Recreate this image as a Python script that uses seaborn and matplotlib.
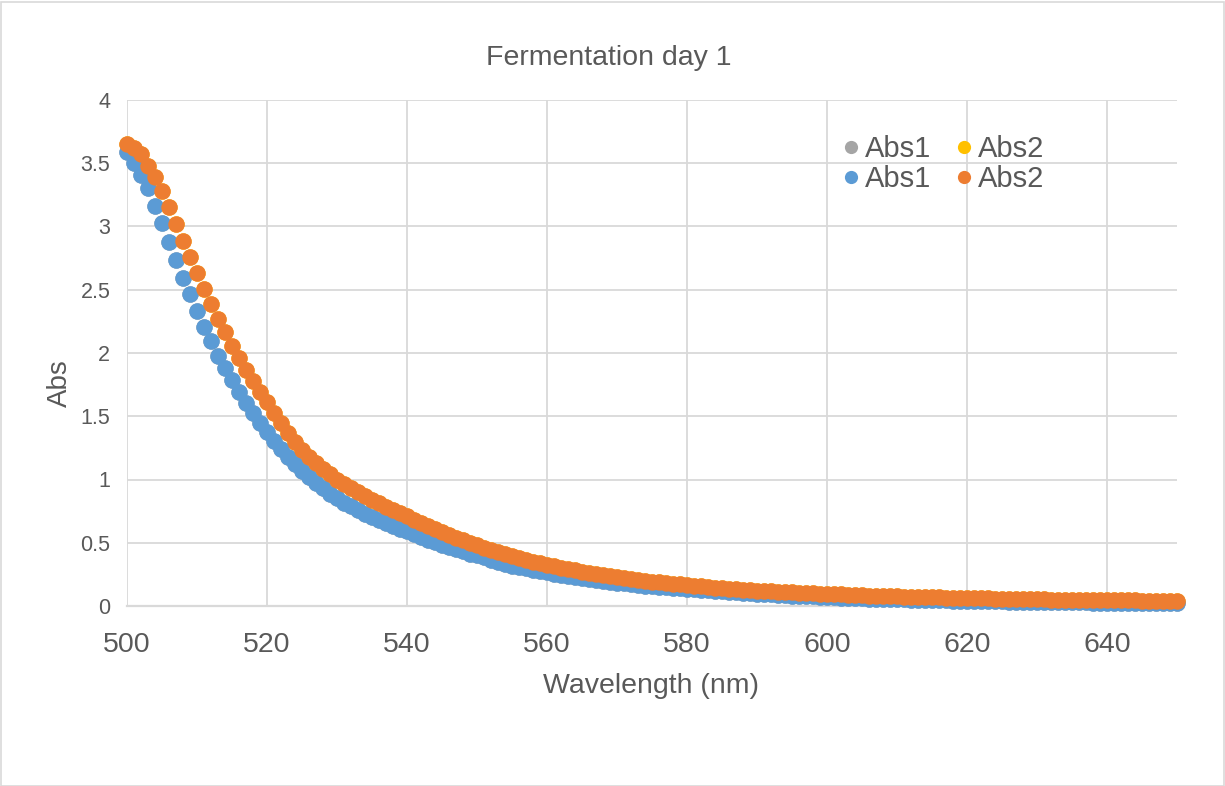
import matplotlib
matplotlib.use("Agg")
import matplotlib.pyplot as plt
from matplotlib.patches import Rectangle
from matplotlib.lines import Line2D
import seaborn as sns

# ---- data ----
wavelength = list(range(500, 651))

abs1 = [
    3.590, 3.504, 3.411, 3.307, 3.164, 3.030, 2.880, 2.735, 2.590, 2.464,
    2.330, 2.205, 2.092, 1.979, 1.880, 1.787, 1.694, 1.607, 1.523, 1.444,
    1.376, 1.307, 1.241, 1.180, 1.123, 1.070, 1.020, 0.974, 0.930, 0.889,
    0.850, 0.818, 0.787, 0.757, 0.728, 0.700, 0.677, 0.654, 0.632, 0.611,
    0.590, 0.567, 0.546, 0.525, 0.505, 0.485, 0.466, 0.448, 0.431, 0.415,
    0.400, 0.384, 0.367, 0.351, 0.335, 0.320, 0.308, 0.297, 0.286, 0.275,
    0.265, 0.255, 0.246, 0.237, 0.228, 0.220, 0.212, 0.205, 0.198, 0.191,
    0.185, 0.179, 0.173, 0.168, 0.162, 0.157, 0.152, 0.148, 0.143, 0.139,
    0.135, 0.131, 0.127, 0.123, 0.119, 0.115, 0.111, 0.108, 0.104, 0.101,
    0.098, 0.095, 0.092, 0.089, 0.086, 0.083, 0.081, 0.078, 0.076, 0.073,
    0.071, 0.069, 0.067, 0.065, 0.063, 0.061, 0.059, 0.058, 0.056, 0.055,
    0.053, 0.052, 0.050, 0.049, 0.048, 0.047, 0.045, 0.044, 0.043, 0.042,
    0.041, 0.040, 0.039, 0.038, 0.037, 0.036, 0.035, 0.035, 0.034, 0.033,
    0.032, 0.031, 0.031, 0.030, 0.030, 0.029, 0.028, 0.028, 0.027, 0.027,
    0.026, 0.026, 0.025, 0.025, 0.024, 0.024, 0.024, 0.023, 0.023, 0.022,
    0.022,
]

abs2 = [
    3.652, 3.618, 3.571, 3.478, 3.389, 3.281, 3.152, 3.020, 2.888, 2.762,
    2.630, 2.504, 2.386, 2.269, 2.164, 2.057, 1.960, 1.868, 1.779, 1.694,
    1.610, 1.523, 1.444, 1.368, 1.299, 1.233, 1.180, 1.130, 1.086, 1.042,
    1.000, 0.964, 0.930, 0.898, 0.868, 0.840, 0.812, 0.785, 0.759, 0.734,
    0.710, 0.683, 0.657, 0.632, 0.608, 0.585, 0.563, 0.541, 0.520, 0.500,
    0.480, 0.462, 0.444, 0.427, 0.411, 0.395, 0.380, 0.365, 0.351, 0.338,
    0.325, 0.314, 0.303, 0.292, 0.282, 0.272, 0.263, 0.254, 0.245, 0.236,
    0.228, 0.221, 0.213, 0.206, 0.200, 0.193, 0.187, 0.181, 0.176, 0.170,
    0.165, 0.160, 0.155, 0.150, 0.146, 0.141, 0.137, 0.133, 0.129, 0.126,
    0.122, 0.119, 0.116, 0.113, 0.110, 0.107, 0.105, 0.102, 0.100, 0.097,
    0.095, 0.093, 0.091, 0.089, 0.087, 0.085, 0.083, 0.081, 0.079, 0.078,
    0.076, 0.075, 0.073, 0.072, 0.070, 0.069, 0.068, 0.067, 0.065, 0.064,
    0.063, 0.062, 0.061, 0.060, 0.059, 0.058, 0.057, 0.056, 0.055, 0.054,
    0.053, 0.052, 0.051, 0.051, 0.050, 0.049, 0.049, 0.048, 0.047, 0.047,
    0.046, 0.045, 0.045, 0.044, 0.044, 0.043, 0.043, 0.042, 0.042, 0.041,
    0.041,
]

series_names = ["Abs1", "Abs2", "Abs1", "Abs2"]
series_colors = ["#A5A5A5", "#FFC000", "#5B9BD5", "#ED7D31"]
x_ticks = [500, 520, 540, 560, 580, 600, 620, 640]
y_ticks = [0, 0.5, 1, 1.5, 2, 2.5, 3, 3.5, 4]
y_tick_labels = ["0", "0.5", "1", "1.5", "2", "2.5", "3", "3.5", "4"]
title = "Fermentation day 1"
x_label = "Wavelength (nm)"
y_label = "Abs"

# ---- styling ----
sns.set_theme(style="white")
plt.rcParams["font.family"] = ["Liberation Sans", "DejaVu Sans"]
TXT = "#595959"
GRID = "#D9D9D9"

W, H = 1225, 786
fig = plt.figure(figsize=(W / 100, H / 100), dpi=100)
fig.patch.set_facecolor("white")
left, right, top, bottom = 127, 1177, 100, 606
ax = fig.add_axes([left / W, 1 - bottom / H, (right - left) / W, (bottom - top) / H])

series_data = [abs1, abs2, abs1, abs2]
for vals, col, name in zip(series_data, series_colors, series_names):
    sns.scatterplot(x=wavelength, y=vals, color=col, s=140, linewidth=0,
                    ax=ax, clip_on=False, zorder=3, legend=False)

ax.set_xlim(500, 650)
ax.set_ylim(0, 4)
ax.set_xticks(x_ticks)
ax.set_yticks(y_ticks)
ax.set_yticklabels(y_tick_labels)
ax.grid(True, color=GRID, linewidth=1.3)
ax.set_axisbelow(True)
for side in ["left", "right", "top"]:
    ax.spines[side].set_visible(False)
ax.spines["bottom"].set_color(GRID)
ax.spines["bottom"].set_linewidth(1.6)
ax.spines["bottom"].set_zorder(1)

ax.tick_params(axis="x", length=0, pad=19, labelsize=20.5, labelcolor=TXT)
ax.tick_params(axis="y", length=0, pad=12, labelsize=15.5, labelcolor=TXT)

ax.set_xlabel(x_label, fontsize=20.5, color=TXT)
ax.xaxis.set_label_coords((651 - left) / (right - left), (bottom - 673) / (bottom - top))
ax.set_ylabel(y_label, fontsize=20, color=TXT)
ax.yaxis.set_label_coords((73 - left) / (right - left), (bottom - 383) / (bottom - top))

fig.text(609 / W, 1 - 58 / H, title, ha="center", va="center", fontsize=20.5, color=TXT)

# legend: two rows, gray/yellow on top, blue/orange below
handles = [Line2D([], [], linestyle="none", marker="o", markersize=9.5,
                  markerfacecolor=c, markeredgewidth=0) for c in series_colors]
order = [0, 2, 1, 3]
leg = fig.legend([handles[i] for i in order], [series_names[i] for i in order],
                 ncol=2, loc="upper left", bbox_to_anchor=(842 / W, 1 - 135 / H),
                 frameon=False, fontsize=21, handlelength=0.6, handletextpad=0.2,
                 columnspacing=0.8, labelspacing=0.06, borderpad=0, borderaxespad=0)
for t in leg.get_texts():
    t.set_color(TXT)

fig.patches.append(Rectangle((0.5 / W, 0.5 / H), (W - 2) / W, (H - 2) / H,
                             transform=fig.transFigure, fill=False,
                             edgecolor=GRID, linewidth=1.2))

fig.savefig("out.png", dpi=100, facecolor="white")
